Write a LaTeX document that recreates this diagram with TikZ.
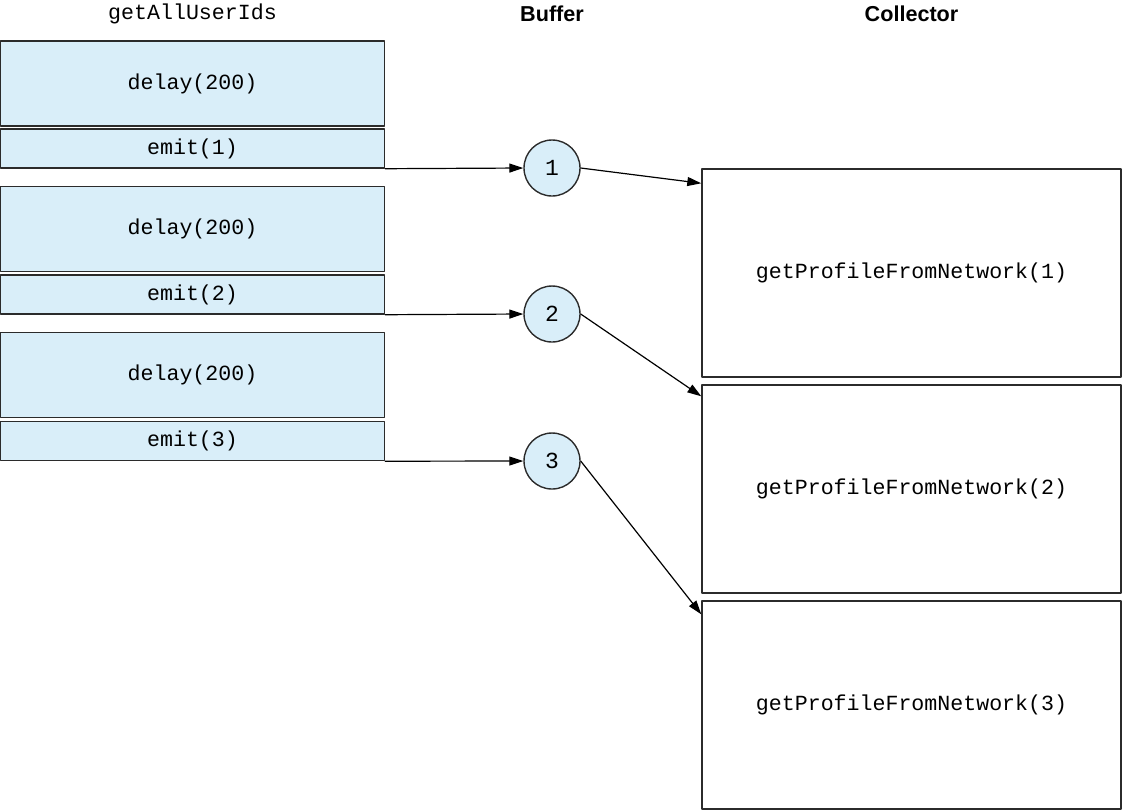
\documentclass[tikz,border=0pt]{standalone}
\usepackage{fontspec}
\setmainfont{Liberation Sans}
\setmonofont{Liberation Mono}
\usetikzlibrary{arrows.meta}
\definecolor{bufblue}{HTML}{D9EEF9}
\definecolor{edgegray}{HTML}{2B2B2B}

\begin{document}
\begin{tikzpicture}[line cap=round,line join=round,>={Triangle[length=7pt,width=4.5pt]},x=0.5pt,y=-0.5pt]
\useasboundingbox (0,0) rectangle (1122,810);
\tikzstyle{stepbox}= [draw=edgegray, line width=0.7pt, fill=bufblue, inner sep=0pt, minimum width=192pt, font=\ttfamily\fontsize{10.8}{13}\selectfont];
\tikzstyle{delaybox}= [stepbox, minimum height=42.5pt];
\tikzstyle{emitbox}= [stepbox, minimum height=19.5pt];
\tikzstyle{bufcircle}= [circle, draw=edgegray, line width=0.7pt, fill=bufblue, inner sep=0pt, minimum size=28pt, font=\ttfamily\fontsize{11.5}{13}\selectfont];
\tikzstyle{collbox}= [draw=edgegray, line width=0.7pt, inner sep=0pt, minimum width=209.5pt, minimum height=104pt, font=\ttfamily\fontsize{10.8}{13}\selectfont];
\tikzstyle{flow}= [->, line width=0.6pt, color=black];
% headings
\node[font=\ttfamily\fontsize{10.8}{13}\selectfont] (hsrc) at (192.5,14) {getAllUserIds};
\node[font=\bfseries\fontsize{10.8}{13}\selectfont] (hbuf) at (552,14) {Buffer};
\node[font=\bfseries\fontsize{10.8}{13}\selectfont] (hcol) at (911.5,14) {Collector};
% producer
\node[delaybox] (d1) at (192.5,83.5) {delay(200)};
\node[emitbox] (e1) at (192.5,148.5) {emit(1)};
\node[delaybox] (d2) at (192.5,229) {delay(200)};
\node[emitbox] (e2) at (192.5,294.5) {emit(2)};
\node[delaybox] (d3) at (192.5,375) {delay(200)};
\node[emitbox] (e3) at (192.5,441) {emit(3)};
% buffer
\node[bufcircle] (b1) at (552,168) {1};
\node[bufcircle] (b2) at (552,314) {2};
\node[bufcircle] (b3) at (552,461) {3};
% collector
\node[collbox] (c1) at (911.5,273) {getProfileFromNetwork(1)};
\node[collbox] (c2) at (911.5,489) {getProfileFromNetwork(2)};
\node[collbox] (c3) at (911.5,705) {getProfileFromNetwork(3)};
% connectors
\draw[flow] (e1.south east) -- (b1.west);
\draw[flow] (e2.south east) -- (b2.west);
\draw[flow] (e3.south east) -- (b3.west);
\draw[flow] (b1.east) -- ([yshift=-7.5pt]c1.north west);
\draw[flow] (b2.east) -- ([yshift=-6pt]c2.north west);
\draw[flow] (b3.east) -- ([yshift=-7pt]c3.north west);
\end{tikzpicture}
\end{document}
